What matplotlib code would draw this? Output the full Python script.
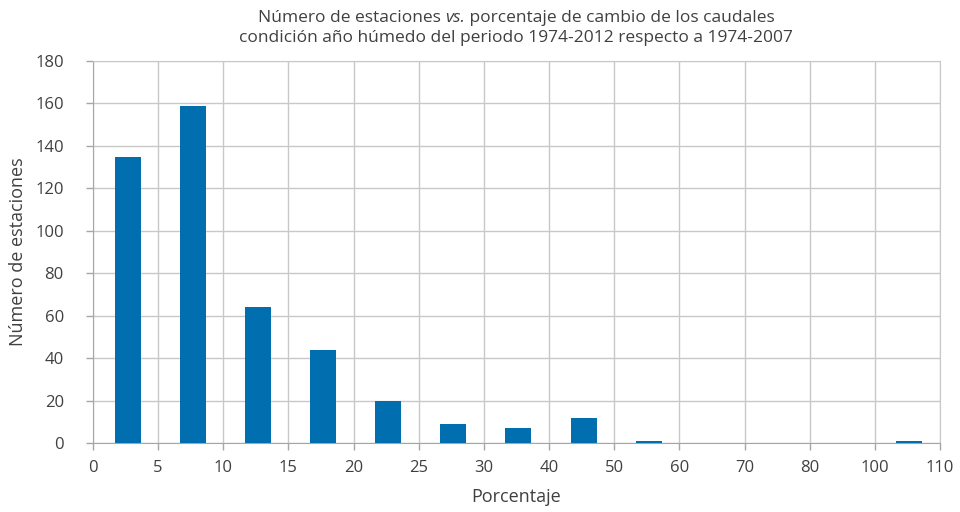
import matplotlib
matplotlib.use("Agg")
import matplotlib.pyplot as plt

categories = ["0-5", "5-10", "10-15", "15-20", "20-25", "25-30", "30-40", "40-50",
              "50-60", "60-70", "70-80", "80-100", "100-110"]
tick_labels = ["0", "5", "10", "15", "20", "25", "30", "40", "50", "60", "70", "80", "100", "110"]
values = [135, 159, 64, 44, 20, 9, 7, 12, 1, 0, 0, 0, 1]

plt.rcParams['font.family'] = ['Open Sans', 'DejaVu Sans']
txt = '#404040'
grid = '#C8C8C8'

fig = plt.figure(figsize=(9.6, 5.12), dpi=100)
ax = fig.add_axes([93/960, 1-443/512, (940-93)/960, (443-61)/512])

x = [i + 0.53 for i in range(len(categories))]
ax.bar(x, values, width=0.4, color='#006EAF', zorder=3)

ax.set_xlim(0, len(categories))
ax.set_ylim(0, 180)
ax.set_xticks(range(len(tick_labels)))
ax.set_xticklabels(tick_labels)
ax.set_yticks(range(0, 181, 20))
ax.grid(True, color=grid, linewidth=1, zorder=0)
for s in ['top', 'right']:
    ax.spines[s].set_color(grid)
for s in ['left', 'bottom']:
    ax.spines[s].set_color('#A6A6A6')
ax.tick_params(axis='both', colors='#A6A6A6', labelcolor=txt, labelsize=12, length=5, width=1)
ax.tick_params(axis='x', pad=7)
ax.tick_params(axis='y', pad=16)
ax.set_xlabel('Porcentaje', fontsize=13, color=txt)
ax.set_ylabel('Número de estaciones', fontsize=13, color=txt)
ax.yaxis.set_label_coords((18 - 93) / 847, 0.5)
ax.xaxis.set_label_coords(0.5, -(497 - 443) / 382)
ax.xaxis.label.set_va('center')
ax.yaxis.label.set_va('center')

# Title with italic "vs."
fs = 12.5
cx = 516/960
parts = [("Número de estaciones ", 'normal'), ("vs.", 'italic'),
         (" porcentaje de cambio de los caudales", 'normal')]
texts = []
for s, st in parts:
    t = fig.text(0, 1-18/512, s, fontsize=fs, color=txt, style=st, ha='left', va='center')
    texts.append(t)
fig.canvas.draw()
r = fig.canvas.get_renderer()
widths = [t.get_window_extent(r).width for t in texts]
total = sum(widths)
start = cx * 960 - total / 2
pos = start
for t, w in zip(texts, widths):
    t.set_x(pos / 960)
    pos += w
fig.text(cx, 1-38/512, "condición año húmedo del periodo 1974-2012 respecto a 1974-2007",
         fontsize=fs, color=txt, ha='center', va='center')

fig.savefig('out.png', dpi=100)
